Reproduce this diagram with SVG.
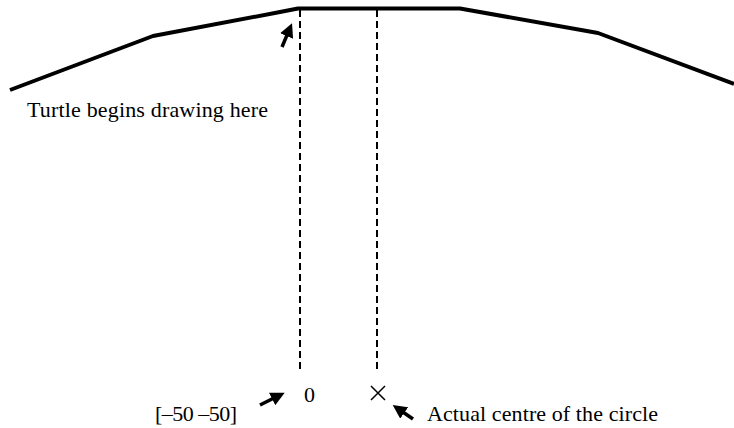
<svg xmlns="http://www.w3.org/2000/svg" width="734" height="428" viewBox="0 0 734 428">
<style>
.t{font-family:"Liberation Serif","Times New Roman",serif;font-size:22px;fill:#000}
.curve{fill:none;stroke:#000;stroke-width:4;stroke-linejoin:round}
.dash{stroke:#000;stroke-width:2;stroke-dasharray:7,4;fill:none}
.ar{stroke:#000;stroke-width:3.5;fill:none}
</style>
<defs>
<marker id="ah" markerWidth="4" markerHeight="4" refX="2.5" refY="2" orient="auto" markerUnits="strokeWidth">
<path d="M0,0 L4,2 L0,4 z" fill="#000"/>
</marker>
</defs>
<g id="circle-arc">
<polyline class="curve" points="10,90 153,36 280,12 298,8.5 460,8.5 598,33 734,84"/>
</g>
<g id="connectors">
<line class="dash" x1="300" y1="10" x2="300" y2="372"/>
<line class="dash" x1="377" y1="10" x2="377" y2="372"/>
<line class="ar" x1="282" y1="47" x2="290" y2="28" marker-end="url(#ah)"/>
<line class="ar" x1="260" y1="405" x2="280" y2="395" marker-end="url(#ah)"/>
<line class="ar" x1="413" y1="419" x2="397" y2="408" marker-end="url(#ah)"/>
</g>
<g id="start-label"><text class="t" x="27" y="117" textLength="241" lengthAdjust="spacing">Turtle begins drawing here</text></g>
<g id="origin"><text class="t" x="304" y="402">0</text>
<text class="t" x="155" y="421" textLength="82" lengthAdjust="spacing">[–50 –50]</text></g>
<g id="centre">
<path d="M371,386 L385,400 M385,386 L371,400" stroke="#000" stroke-width="1.5"/>
<text class="t" x="427" y="421" textLength="231" lengthAdjust="spacing">Actual centre of the circle</text>
</g>
</svg>
